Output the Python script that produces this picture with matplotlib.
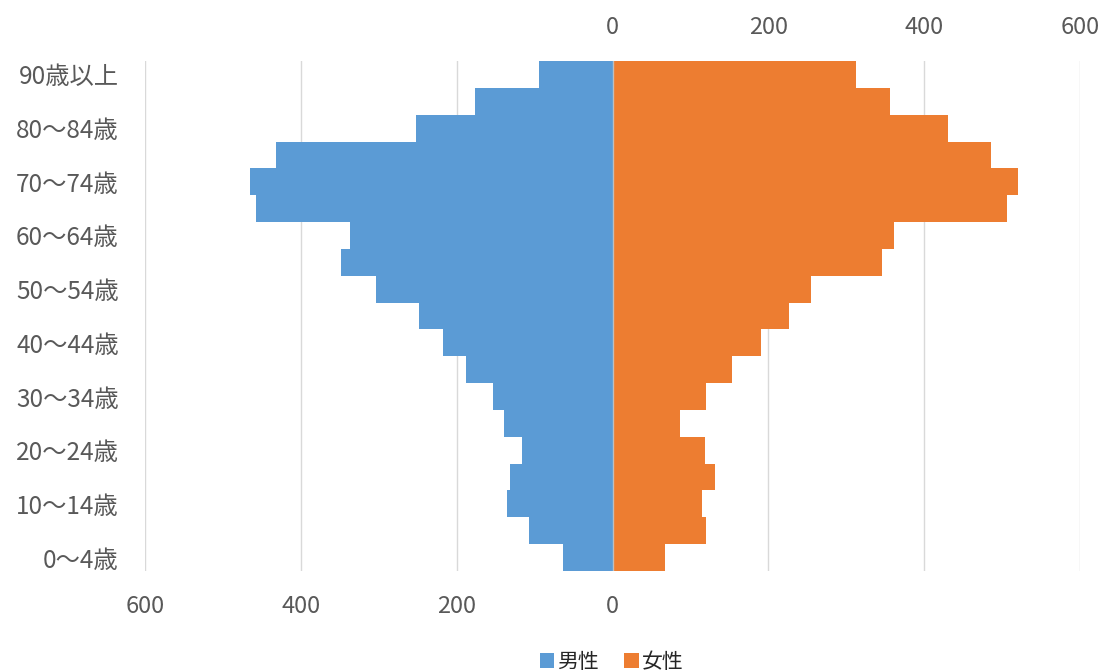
import matplotlib
matplotlib.use("Agg")
import matplotlib.pyplot as plt
from matplotlib.patches import Patch

plt.rcParams["font.family"] = ["Noto Sans CJK JP", "DejaVu Sans"]

age_groups = [
    "0〜4歳", "5〜9歳", "10〜14歳", "15〜19歳", "20〜24歳", "25〜29歳",
    "30〜34歳", "35〜39歳", "40〜44歳", "45〜49歳", "50〜54歳", "55〜59歳",
    "60〜64歳", "65〜69歳", "70〜74歳", "75〜79歳", "80〜84歳", "85〜89歳",
    "90歳以上",
]
male = [64, 107, 135, 131, 116, 139, 154, 188, 217, 248,
        303, 349, 337, 457, 465, 432, 252, 176, 94]
female = [67, 120, 115, 132, 119, 87, 120, 154, 190, 226,
          255, 346, 361, 506, 520, 486, 430, 356, 312]
series_names = ["男性", "女性"]
bottom_ticks = [-600, -400, -200, 0]
top_ticks = [0, 200, 400, 600]

BLUE = "#5B9BD5"
ORANGE = "#ED7D31"
TEXT = "#595959"
GRID = "#D9D9D9"

fig = plt.figure(figsize=(11.08, 6.71), dpi=100)
ax = fig.add_axes([0.1309, 0.149, 0.8438, 0.7601])

y = list(range(len(age_groups)))
ax.barh(y, [-v for v in male], height=1.0, color=BLUE, zorder=2)
ax.barh(y, female, height=1.0, color=ORANGE, zorder=2)
ax.axvline(0, color="#BFBFBF", lw=1.0, zorder=3)

ax.set_xlim(-600, 600)
ax.set_ylim(-0.5, len(age_groups) - 0.5)

for gx in [-600, -400, -200, 200, 400, 600]:
    ax.axvline(gx, color=GRID, lw=1.0, zorder=1)

for s in ax.spines.values():
    s.set_visible(False)

ax.set_xticks(bottom_ticks)
ax.set_xticklabels([str(abs(t)) for t in bottom_ticks])
ax.tick_params(axis="x", length=0, pad=17, labelsize=17, labelcolor=TEXT)

ax.set_yticks(y[::2])
ax.set_yticklabels(age_groups[::2])
ax.tick_params(axis="y", length=0, pad=19, labelsize=17.5, labelcolor=TEXT)

top = ax.secondary_xaxis("top")
top.set_xticks(top_ticks)
top.set_xticklabels([str(t) for t in top_ticks])
top.tick_params(length=0, pad=16, labelsize=17, labelcolor=TEXT)
for s in top.spines.values():
    s.set_visible(False)

handles = [Patch(facecolor=BLUE, edgecolor="none"),
           Patch(facecolor=ORANGE, edgecolor="none")]
fig.legend(handles, series_names, loc="center", bbox_to_anchor=(0.552, 0.014),
           ncol=2, frameon=False, fontsize=15, handlelength=0.7,
           handleheight=0.7, handletextpad=0.15, columnspacing=1.2,
           labelcolor="#262626")

fig.savefig("out.png", dpi=100)
